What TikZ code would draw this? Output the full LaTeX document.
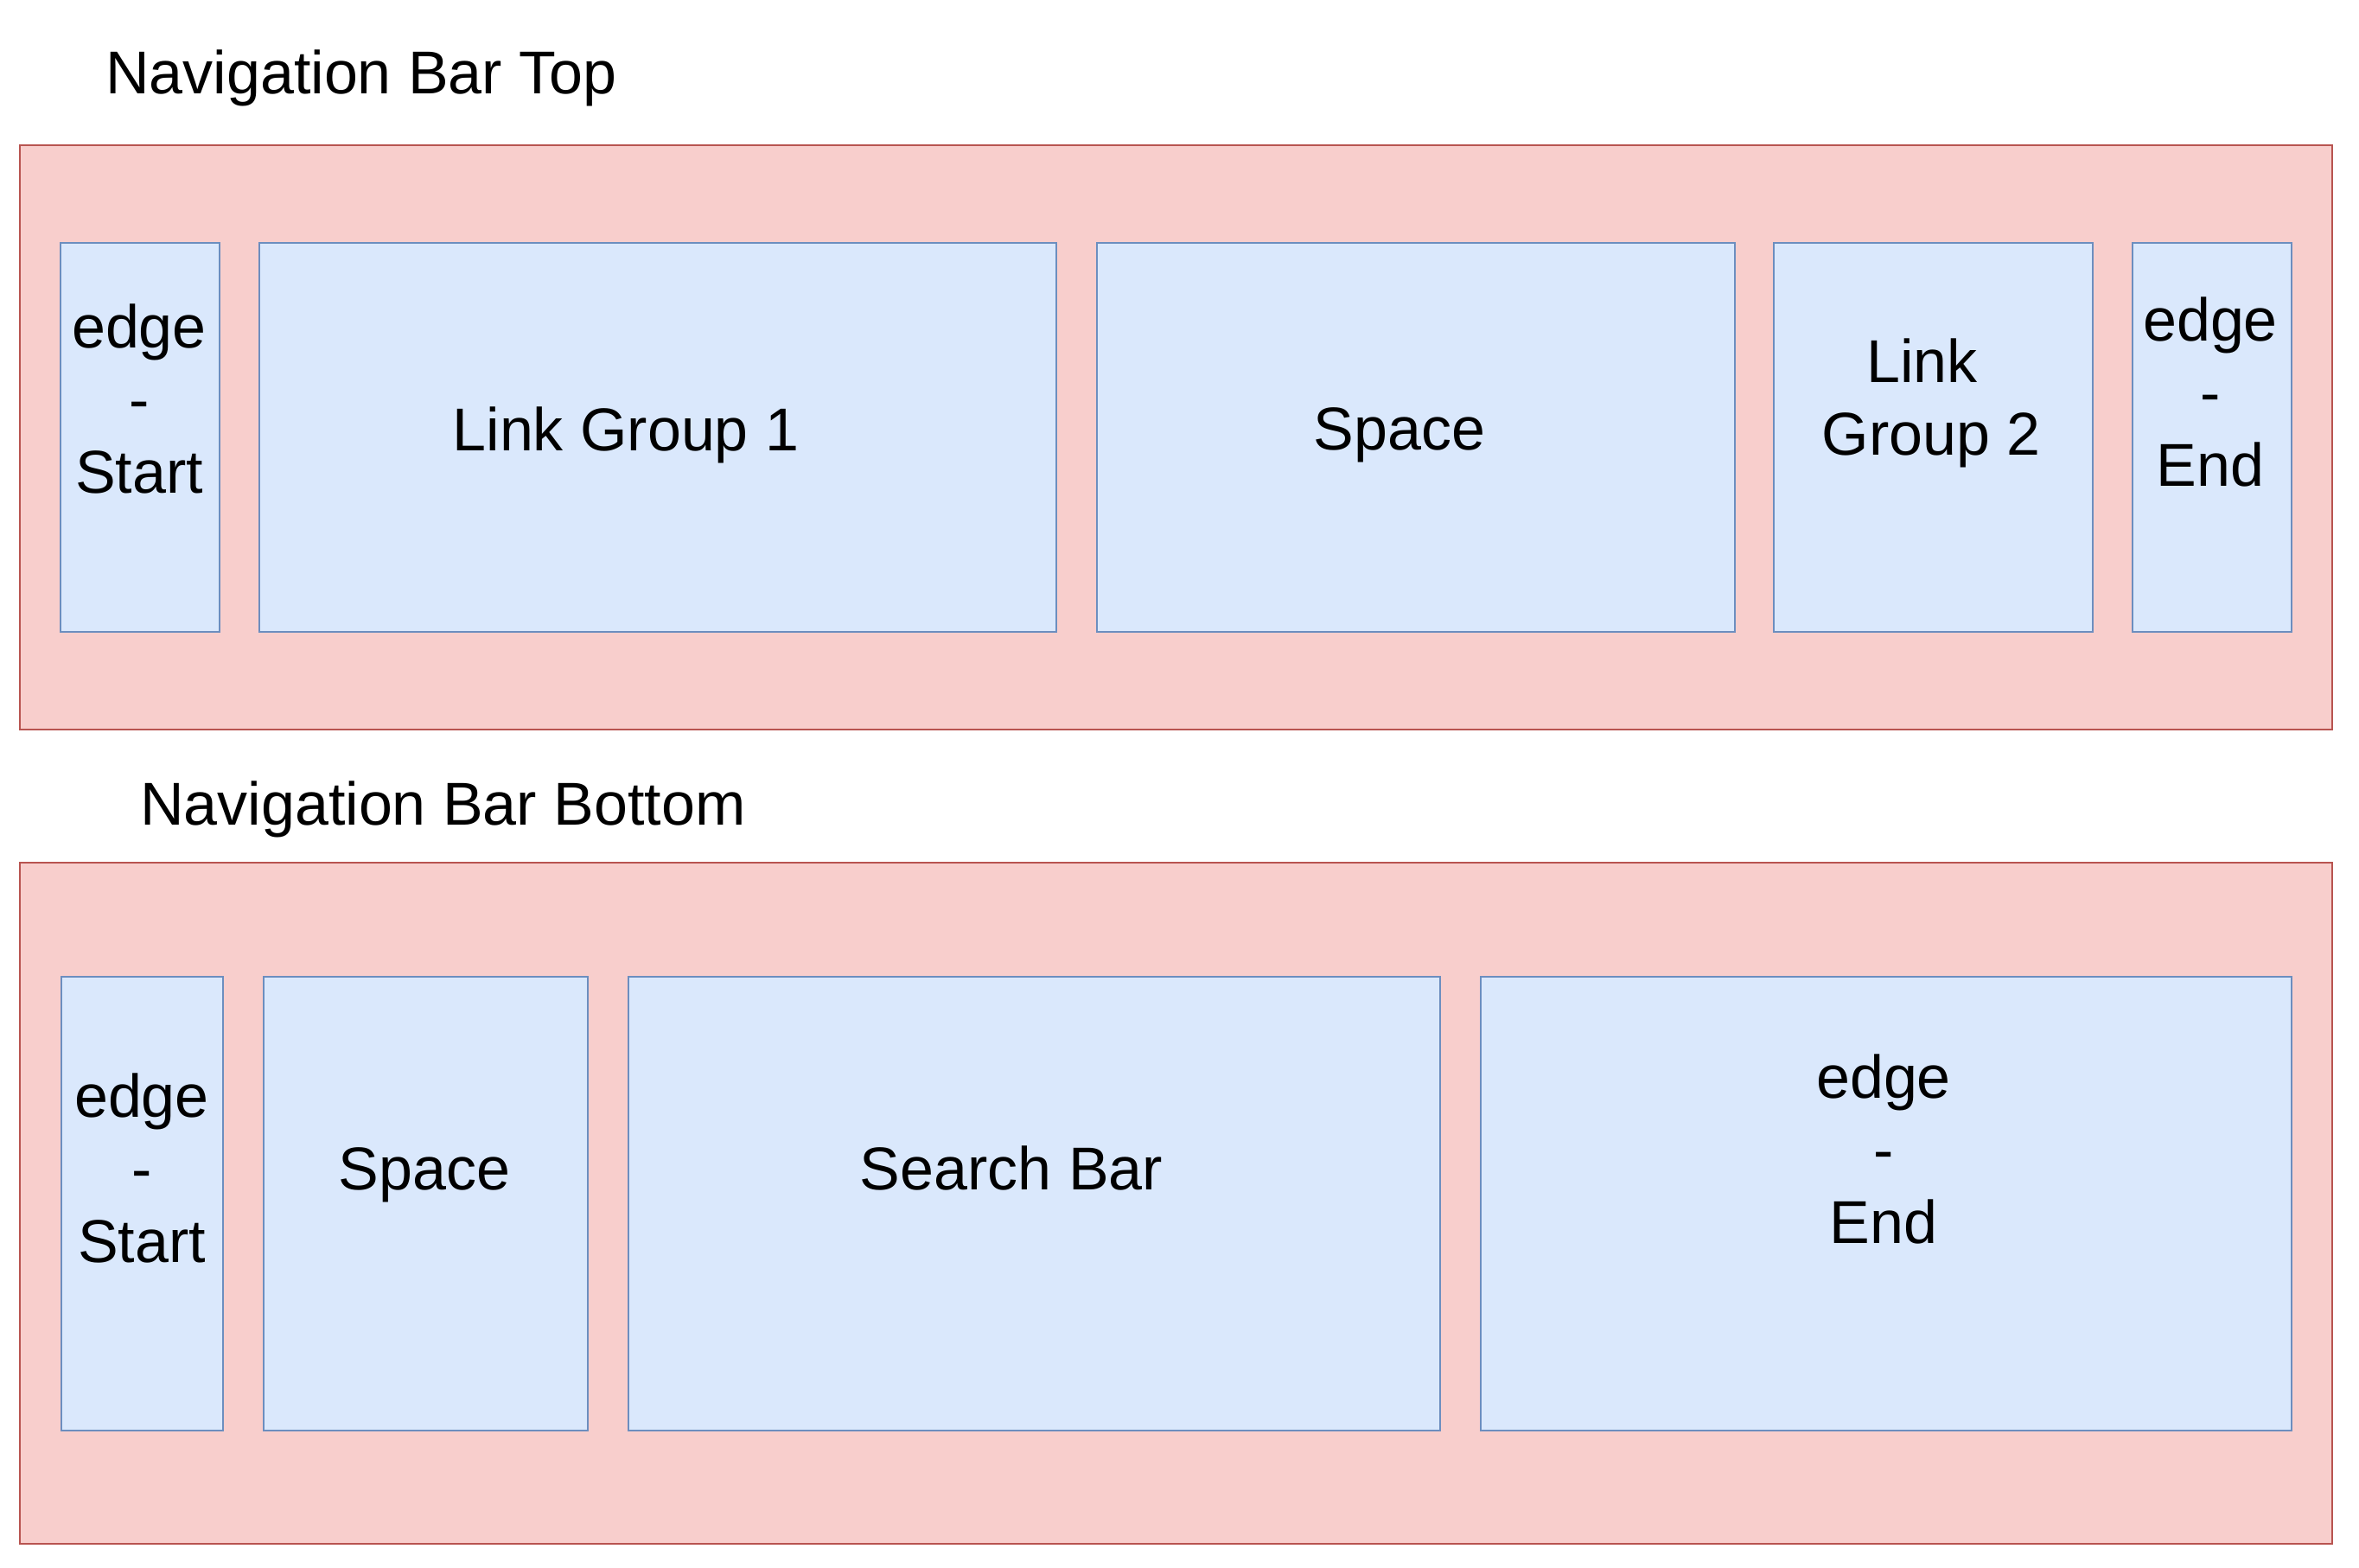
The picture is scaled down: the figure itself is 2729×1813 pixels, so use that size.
\documentclass[tikz,border=0pt]{standalone}
\usepackage{fontspec}
\setmainfont{Liberation Sans}
\definecolor{redfill}{HTML}{F8CECC}
\definecolor{redline}{HTML}{B85450}
\definecolor{bluefill}{HTML}{DAE8FC}
\definecolor{blueline}{HTML}{6C8EBF}
\begin{document}
\begin{tikzpicture}[x=1pt,y=-1pt,
  bar/.style={draw=redline,fill=redfill,line width=2.5pt},
  cell/.style={draw=blueline,fill=bluefill,line width=2.5pt},
  txt/.style={font=\fontsize{70}{84}\selectfont,align=center,inner sep=0pt},
  ttl/.style={font=\fontsize{70}{84}\selectfont,inner sep=0pt,anchor=west}]
\useasboundingbox (0,0) rectangle (2729,1813);
% top bar
\draw[bar] (23,168) rectangle (2698,844);
\node[ttl] (t1) at (122,90) {Navigation Bar Top};
\draw[cell] (70,281) rectangle (254,731);
\draw[cell] (300,281) rectangle (1222,731);
\draw[cell] (1269,281) rectangle (2007,731);
\draw[cell] (2052,281) rectangle (2421,731);
\draw[cell] (2467,281) rectangle (2651,731);
\node[txt] (a1) at (161,461) {edge\\-\\Start};
\node[txt] (a2) at (724,503) {Link Group 1};
\node[txt] (a3) at (1619,503) {Space};
\node[txt] (a4) at (2234,466) {Link\hspace*{0.3em}\\Group 2};
\node[txt] (a5) at (2557,453) {edge\\-\\End};
% bottom bar
\draw[bar] (23,998) rectangle (2698,1786);
\node[ttl] (t2) at (162,936) {Navigation Bar Bottom};
\draw[cell] (71,1130) rectangle (258,1655);
\draw[cell] (305,1130) rectangle (680,1655);
\draw[cell] (727,1130) rectangle (1666,1655);
\draw[cell] (1713,1130) rectangle (2651,1655);
\node[txt] (b1) at (164,1351) {edge\\-\\Start};
\node[txt] (b2) at (491,1359) {Space};
\node[txt] (b3) at (1170,1351) {Search Bar};
\node[txt] (b4) at (2179,1329) {edge\\-\\End};
\end{tikzpicture}
\end{document}
